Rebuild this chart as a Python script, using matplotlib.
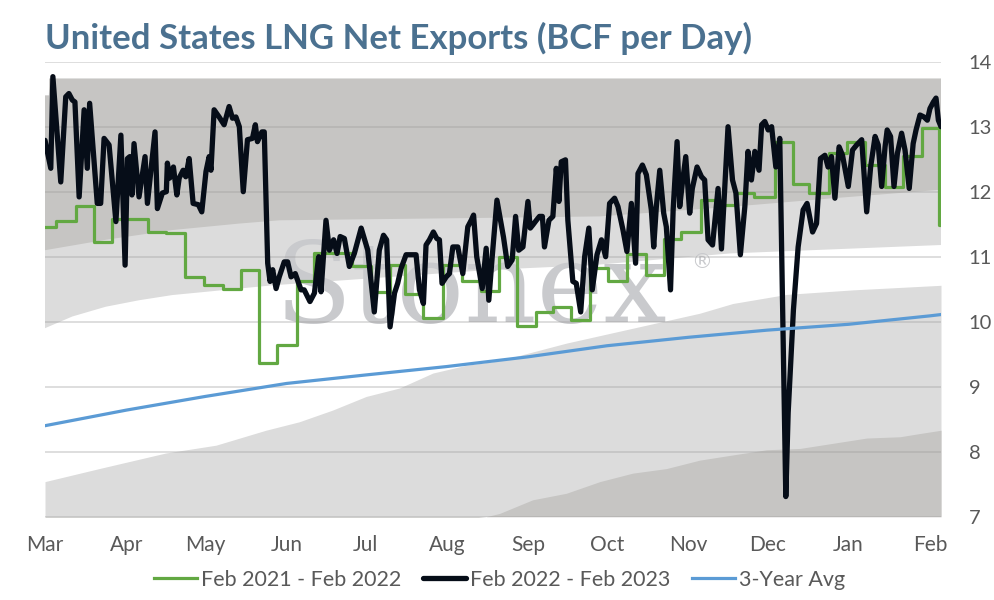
import numpy as np
import matplotlib
matplotlib.use("Agg")
import matplotlib.pyplot as plt

plt.rcParams['font.family'] = ['Lato', 'DejaVu Sans']

# x values are days counted from 1 March
month_days = [0, 31, 61, 92, 122, 153, 184, 214, 245, 275, 306, 337]
month_labels = ['Mar', 'Apr', 'May', 'Jun', 'Jul', 'Aug', 'Sep', 'Oct', 'Nov', 'Dec', 'Jan', 'Feb']

# Feb 2022 - Feb 2023 (daily)
black_day = [0, 2.2, 3.0, 6.0, 7.9, 9.1, 10.4, 11.4, 13.0, 14.9, 16.1, 17.0, 19.9, 21.2, 22.5, 24.4,
             27.0, 28.9, 30.5, 31.4, 32.3, 33.1, 33.9, 35.8, 38.1, 39.0, 41.9, 42.8, 44.7, 46.2, 46.6,
             47.5, 48.9, 50.2, 51.1, 52.6, 53.6, 54.9, 56.4, 58.4, 59.7, 61.3, 62.5, 63.2, 64.4, 66.3,
             68.2, 70.1, 71.4, 72.7, 74.0, 75.5, 77.1, 79.0, 80.1, 80.9, 82.6, 83.5, 84.8, 85.7, 86.7,
             88.0, 89.2, 91.1, 92.4, 93.7, 95.3, 97.5, 98.7, 100.9, 102.6, 104.2, 105.1, 107.0, 108.3,
             109.9, 111.2, 112.4, 114.0, 115.9, 117.8, 120.4, 122.9, 125.4, 127.3, 128.9, 130.1, 131.4,
             133.1, 134.3, 135.6, 137.5, 139.4, 141.3, 142.6, 144.1, 145.1, 146.4, 147.9, 149.2, 150.2,
             151.2, 152.8, 154.0, 155.3, 157.2, 159.1, 161.0, 162.3, 163.2, 164.4, 166.5, 168.0, 169.0,
             170.3, 172.1, 174.6, 176.2, 177.9, 179.2, 180.4, 182.0, 183.9, 184.8, 185.8, 187.1, 188.3,
             189.4, 190.2, 191.9, 193.4, 194.7, 195.7, 196.6, 198.2, 199.1, 201.0, 202.3, 204.0, 205.5,
             207.1, 208.4, 210.2, 211.9, 213.5, 215.0, 216.9, 218.2, 220.1, 221.6, 223.3, 224.9, 225.8,
             227.5, 229.0, 230.9, 231.8, 232.8, 234.1, 235.6, 236.6, 238.2, 239.2, 240.7, 241.7, 242.7,
             244.0, 245.5, 246.5, 248.3, 250.0, 251.2, 252.5, 254.2, 256.3, 257.6, 260.1, 261.8, 263.1,
             264.8, 266.5, 267.7, 269.0, 270.3, 271.9, 272.9, 274.1, 275.4, 276.7, 278.3, 279.8, 282.1,
             283.0, 285.0, 286.8, 288.7, 290.2, 292.3, 293.8, 295.3, 297.0, 298.2, 299.5, 300.8, 302.4,
             303.7, 305.9, 307.5, 309.1, 311.0, 312.9, 314.4, 316.1, 317.3, 318.6, 319.9, 320.7, 322.0,
             323.3, 324.6, 326.2, 327.5, 329.1, 330.6, 331.7, 333.2, 334.7, 336.0, 337.0, 338.3, 339.3,
             340.2, 341.2]
black_val = [12.79, 12.36, 13.77, 12.15, 13.46, 13.51, 13.41, 13.38, 11.92, 13.26, 12.36, 13.36, 11.82, 11.82,
             12.82, 12.72, 11.54, 12.87, 10.87, 12.51, 12.54, 11.95, 12.74, 11.92, 12.54, 11.82, 12.92, 11.74,
             11.98, 12.00, 12.44, 12.21, 12.38, 11.95, 12.21, 12.33, 12.23, 12.51, 11.82, 11.80, 11.69, 12.31,
             12.54, 12.33, 13.26, 13.15, 13.03, 13.31, 13.13, 13.15, 13.00, 12.00, 12.80, 12.82, 13.03, 12.77,
             12.92, 12.92, 10.90, 10.62, 10.80, 10.51, 10.69, 10.92, 10.92, 10.69, 10.74, 10.49, 10.49, 10.31,
             10.44, 11.00, 10.46, 11.56, 11.10, 11.26, 11.05, 11.31, 11.28, 10.85, 11.05, 11.44, 11.10, 10.15,
             11.10, 11.33, 11.26, 9.92, 10.44, 10.59, 10.82, 11.03, 11.03, 11.03, 10.49, 10.28, 11.18, 11.26,
             11.38, 11.28, 11.26, 10.59, 10.69, 10.74, 11.15, 11.15, 10.74, 11.46, 11.56, 11.64, 11.00, 10.51,
             11.13, 10.33, 11.00, 11.87, 11.30, 10.85, 10.95, 11.62, 11.10, 11.15, 11.85, 11.44, 11.49, 11.56,
             11.62, 11.62, 11.15, 11.56, 11.62, 12.36, 11.85, 12.46, 12.49, 11.56, 10.62, 10.59, 10.15, 11.00,
             11.44, 10.49, 11.03, 11.26, 11.00, 11.82, 11.90, 11.77, 11.41, 11.08, 11.82, 10.90, 12.28, 12.41,
             12.26, 11.72, 11.15, 11.77, 12.33, 11.67, 11.46, 10.49, 11.72, 12.77, 11.77, 12.13, 12.54, 11.67,
             12.05, 12.38, 12.23, 12.18, 11.26, 11.18, 12.05, 11.12, 13.00, 12.18, 11.98, 11.03, 11.77, 12.62,
             12.18, 12.62, 12.33, 13.03, 13.08, 12.95, 13.00, 12.38, 12.82, 7.31, 8.60, 10.18, 11.15, 11.72,
             11.82, 11.38, 11.51, 12.51, 12.56, 12.38, 12.54, 11.90, 12.69, 12.56, 12.08, 12.64, 12.72, 12.80,
             11.69, 12.38, 12.85, 12.72, 12.08, 12.69, 12.95, 12.85, 12.08, 12.59, 12.90, 12.64, 12.05, 12.74,
             12.95, 13.18, 13.15, 13.10, 13.28, 13.38, 13.44, 13.10, 13.00]

# Feb 2021 - Feb 2022 (weekly steps)
green_day = [0, 4.2, 11.8, 18.5, 25.5, 39.3, 46.1, 53.4, 60.4, 67.9, 74.7, 81.4, 88.4, 95.9, 102.4, 117.0,
             124.1, 131.5, 137.2, 143.9, 151.7, 158.8, 166.0, 172.9, 179.6, 186.8, 193.3, 200.3, 207.4,
             214.4, 221.5, 228.7, 235.8, 242.3, 249.7, 257.0, 263.1, 270.1, 277.9, 284.8, 290.9, 298.5,
             305.4, 312.4, 319.7, 326.7, 333.8, 340.6, 341.2]
green_val = [11.46, 11.55, 11.78, 11.22, 11.58, 11.38, 11.36, 10.69, 10.56, 10.51, 10.80, 9.36, 9.64, 10.62,
             11.05, 10.85, 10.46, 10.87, 10.43, 10.05, 10.87, 10.63, 10.48, 10.99, 9.93, 10.15, 10.22, 10.03,
             10.82, 10.62, 11.04, 10.72, 11.28, 11.38, 11.87, 11.79, 11.98, 11.92, 12.77, 12.12, 11.98, 12.59,
             12.77, 12.41, 12.08, 12.55, 12.98, 11.49, 11.49]

# 3-Year Avg
blue_day = [0, 31, 61, 92, 122, 153, 184, 214, 245, 275, 306, 337, 341.2]
blue_val = [8.40, 8.64, 8.85, 9.05, 9.18, 9.31, 9.46, 9.63, 9.76, 9.87, 9.96, 10.09, 10.11]

# shaded range bands (boundaries from bottom to top)
band_a_day = [0, 168, 173.1, 185.7, 198.5, 211.3, 223.8, 236.6, 249.3, 261.9, 274.8, 287.5, 300.2, 312.9,
              325.6, 333.2, 341.2]
band_a_val = [6.3, 7.0, 7.05, 7.26, 7.36, 7.54, 7.67, 7.74, 7.87, 7.95, 8.03, 8.05, 8.13, 8.21, 8.23, 8.28, 8.33]
band_b_day = [0, 20.6, 46.0, 65.1, 84.1, 96.8, 109.5, 122.3, 135.0, 147.7, 160.4, 173.1, 198.5, 223.9,
              249.3, 261.9, 282.4, 307.8, 341.2]
band_b_val = [7.54, 7.74, 7.98, 8.10, 8.33, 8.46, 8.64, 8.85, 8.98, 9.21, 9.33, 9.40, 9.67, 9.90, 10.13,
              10.28, 10.42, 10.49, 10.56]
band_c_day = [0, 10.4, 23.1, 35.8, 48.5, 61.3, 74.0, 86.7, 170.5, 208.5, 260.8, 341.2]
band_c_val = [9.90, 10.08, 10.23, 10.33, 10.41, 10.46, 10.51, 10.56, 10.80, 10.87, 11.05, 11.18]
band_d_day = [0, 23.1, 48.5, 74.0, 89.2, 173.1, 211.3, 261.9, 300.2, 341.2]
band_d_val = [11.10, 11.26, 11.41, 11.51, 11.56, 11.60, 11.62, 11.77, 11.90, 12.03]
band_e_day = [0, 1.5, 1.6, 341.2]
band_e_val = [13.48, 13.48, 13.74, 13.74]

DARK = '#c6c5c3'
LIGHT = '#dcdcdc'
TEXT = '#595959'


def band(ax, x1, y1, x2, y2, color):
    xs = np.r_[x1, x2[::-1]]
    ys = np.r_[y1, y2[::-1]]
    ax.fill(xs, ys, color=color, lw=0, zorder=1)


fig = plt.figure(figsize=(9.94, 6.0), dpi=100)
ax = fig.add_axes([45 / 994, 1 - 516.7 / 600, 896 / 994, 455 / 600])

ax.fill_between(band_b_day, 7, band_b_val, color=LIGHT, lw=0, zorder=1)
ax.fill_between(band_a_day, 7, band_a_val, color=DARK, lw=0, zorder=1)
band(ax, np.array(band_c_day), np.array(band_c_val), np.array(band_e_day), np.array(band_e_val), LIGHT)
band(ax, np.array(band_d_day), np.array(band_d_val), np.array(band_e_day), np.array(band_e_val), DARK)

# watermark, behind the data lines
ax.text(274 / 994, 1 - 322 / 600, 'Stonex', family='DejaVu Serif', fontsize=81,
        color='#c9cacd', va='baseline', ha='left', zorder=1.5, transform=fig.transFigure)
ax.text(702 / 994, 1 - 262 / 600, '®', family='DejaVu Sans', fontsize=15,
        color='#c9cacd', va='center', ha='center', zorder=1.5, transform=fig.transFigure)

ax.plot(green_day, green_val, color='#62a842', lw=2.3, drawstyle='steps-post', zorder=4,
        label='Feb 2021 - Feb 2022')
ax.plot(black_day, black_val, color='#060d18', lw=3.8, solid_joinstyle='round', solid_capstyle='round',
        zorder=5, label='Feb 2022 - Feb 2023')
ax.plot(blue_day, blue_val, color='#5b9bd5', lw=2.3, zorder=6, label='3-Year Avg')

ax.set_xlim(0, 341.2)
ax.set_ylim(7, 14)
ax.set_yticks(range(7, 15))
ax.set_xticks(month_days)
ax.set_xticklabels(month_labels)
ax.yaxis.tick_right()
ax.tick_params(axis='both', length=0, colors=TEXT)
ax.tick_params(axis='x', labelsize=15, pad=13)
ax.tick_params(axis='y', labelsize=14.5, pad=20)
for lab in ax.get_yticklabels():
    lab.set_horizontalalignment('left')
ax.grid(axis='y', color='#9a9a9a', alpha=0.35, lw=1.3, zorder=2.5)
ax.set_axisbelow(False)
for s in ax.spines.values():
    s.set_visible(False)
ax.patch.set_alpha(0)

fig.text(45 / 994, 1 - 38 / 600, 'United States LNG Net Exports (BCF per Day)', fontsize=25,
         weight='bold', color='#4b7190', va='center', ha='left')

fig.legend(loc='center', bbox_to_anchor=(0.5025, 1 - 580 / 600), ncol=3, frameon=False, fontsize=15.5,
           labelcolor=TEXT, handlelength=2.0, handletextpad=0.2, columnspacing=1.0)

fig.savefig('out.png', dpi=100)
